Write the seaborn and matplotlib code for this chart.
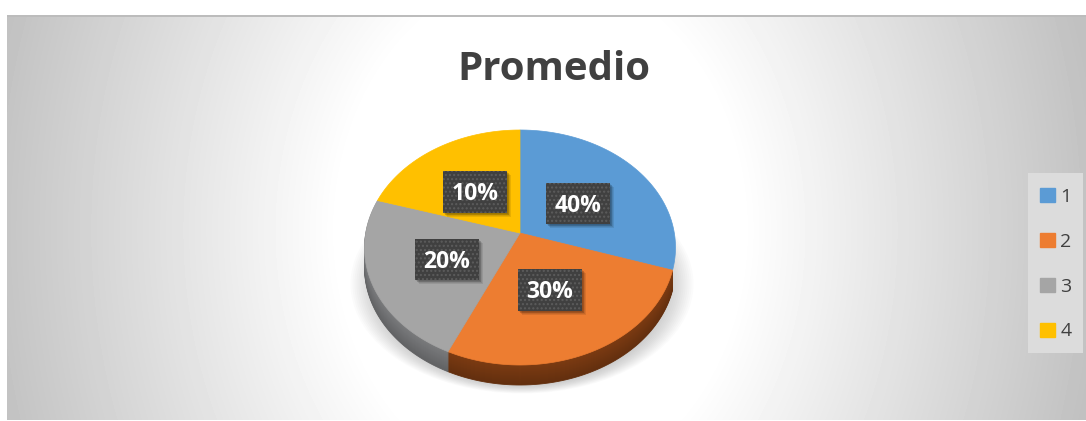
import numpy as np
import matplotlib
matplotlib.use('Agg')
import matplotlib.pyplot as plt
from matplotlib.patches import Ellipse, Polygon, Rectangle
from matplotlib.transforms import Affine2D
import seaborn as sns

# datos
categorias = ['1', '2', '3', '4']
etiquetas = ['40%', '30%', '20%', '10%']
# tamano aparente de cada porcion (no coincide con la etiqueta en el original)
porciones = [30.0, 26.8, 22.9, 20.3]
colores = sns.color_palette(['#5b9bd5', '#ed7d31', '#a5a5a5', '#ffc000'])
# solo las porciones 2 y 3 dejan ver el lateral
colores_lado = [None, '#7c3b12', '#7a7b7d', None]

sns.set_theme(style='white')
plt.rcParams['font.family'] = ['Open Sans', 'DejaVu Sans']

W, H = 1086, 421
fig = plt.figure(figsize=(W / 100, H / 100), dpi=100, facecolor='white')
ax = fig.add_axes([0, 0, 1, 1])

# posicion de la tarta en pixeles
cx, cy, rx, ry = 520, 247.5, 155.5, 117.5
prof = 20
c = 0.123  # perspectiva: el vertice queda por encima del centro


def deformar(v):
    x, y = v[:, 0], v[:, 1]
    d = 1 + c * y
    xp = x * np.sqrt(1 - c ** 2) / d
    yp = (y + c) / d
    return np.column_stack([cx + rx * xp, cy - ry * yp])


wedges, _ = ax.pie(porciones, colors=colores, startangle=90, counterclock=False)
formas = []
for w in wedges:
    # se aplana a escala grande para que el borde salga suave
    trans = w.get_patch_transform() + Affine2D().scale(1000)
    poly = w.get_path().to_polygons(transform=trans, closed_only=True)[0] / 1000
    formas.append(deformar(poly))
    w.remove()
ax.set_aspect('auto')
ax.set_xlim(0, W)
ax.set_ylim(H, 0)
ax.axis('off')

# fondo con degradado radial
yy, xx = np.mgrid[15:420, 7:1086]
r = np.hypot((xx - 540) / 560, (yy - 230) / 700)
fondo = 255 - 62 * np.clip((r - 0.36) / 0.64, 0, 1)
ax.imshow(fondo, cmap='gray', vmin=0, vmax=255, extent=(7, 1086, 420, 15),
          aspect='auto', zorder=0, interpolation='bilinear')
ax.add_patch(Rectangle((7, 15), 1079, 2, color='#bcbcbc', lw=0, zorder=1))

# sombra bajo la tarta
for i in range(14):
    ax.add_patch(Ellipse((522, 284), 2 * (rx + 16 - i * 2), 2 * (ry - 8 - i * 0.6), color='#808080',
                         alpha=0.03, lw=0, zorder=1.5))

# lateral de la tarta: copias desplazadas hacia abajo
for d in range(prof, 0, -1):
    f = 0.8 + 0.2 * (prof - d) / prof
    for forma, col in zip(formas, colores_lado):
        if col is None:
            continue
        rgb = np.array(matplotlib.colors.to_rgb(col)) * f
        ax.add_patch(Polygon(forma + [0, d], closed=True, color=rgb, lw=0.6, zorder=2))

# cara superior
for forma, col in zip(formas, colores):
    ax.add_patch(Polygon(forma, closed=True, facecolor=col, edgecolor=col, lw=0.5, zorder=3))

# etiquetas de datos
cajas = [(546, 183, 64, 41), (518, 269, 64, 42), (415, 239, 64, 41), (443, 171, 64, 42)]
for (x0, y0, bw, bh), txt in zip(cajas, etiquetas):
    for s in range(1, 6):
        ax.add_patch(Rectangle((x0 + s * 0.8, y0 + s * 0.8), bw, bh, color='black', alpha=0.09,
                               lw=0, zorder=4))
    ax.add_patch(Rectangle((x0, y0), bw, bh, facecolor='#404040', edgecolor='#5c5c5c',
                           hatch='....', lw=0, zorder=5))
    ax.text(x0 + bw / 2, y0 + bh / 2 + 2, txt, color='white', fontsize=16.5, fontweight='bold',
            ha='center', va='center', zorder=6)

# titulo
ax.text(554, 69, 'Promedio', color='#404040', fontsize=29, fontweight='bold',
        ha='center', va='center', zorder=6)

# leyenda, con el fondo aparte para ajustar el recuadro
ax.add_patch(Rectangle((1028, 173), 55, 180, color='#dcdcdc', lw=0, zorder=5))
handles = [Rectangle((0, 0), 1, 1, color=col) for col in colores]
ley = ax.legend(handles, categorias, loc='upper left', bbox_to_anchor=(1040, 188),
                bbox_transform=ax.transData, frameon=False, fontsize=14, labelcolor='#404040',
                handlelength=0.75, handleheight=0.75, handletextpad=0.3, labelspacing=1.38,
                borderpad=0, borderaxespad=0)
ley.set_zorder(6)

fig.savefig('out.png', dpi=100, facecolor='white')
